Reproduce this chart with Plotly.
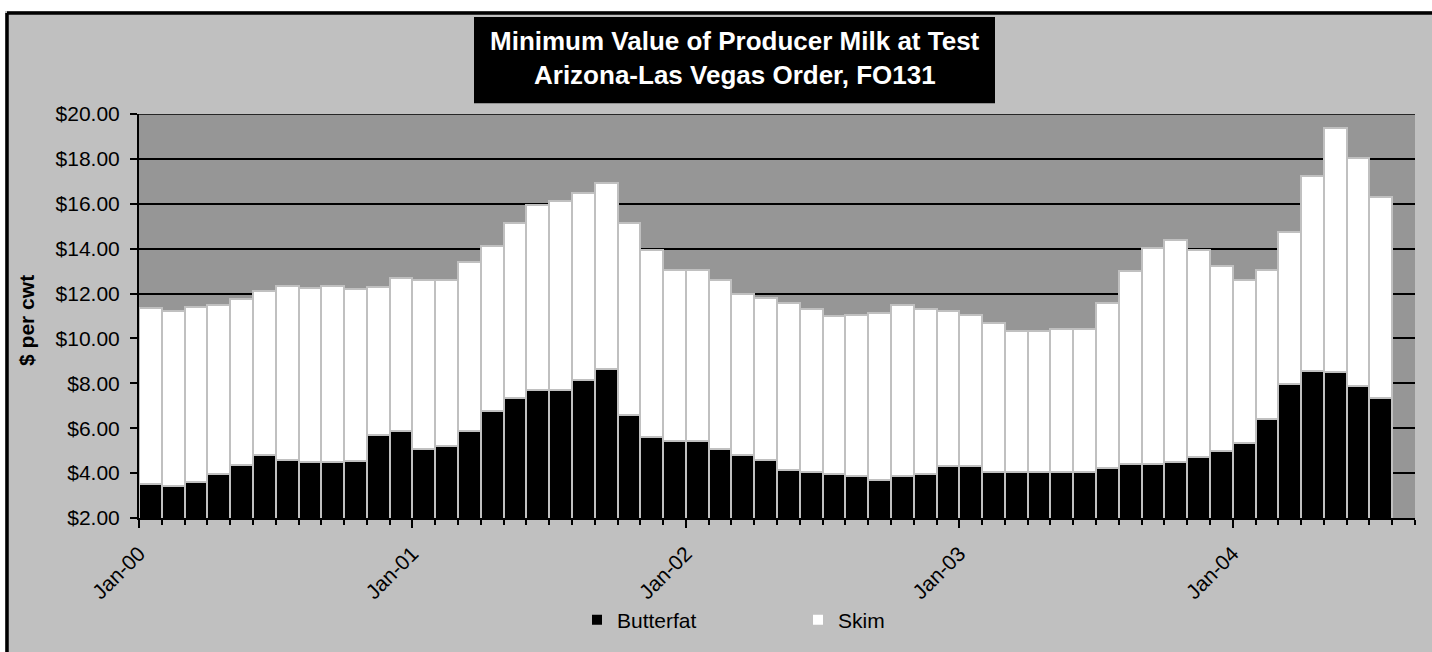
import plotly.graph_objects as go

# ---------------- data ----------------
months = [
    "Jan-00", "Feb-00", "Mar-00", "Apr-00", "May-00", "Jun-00", "Jul-00", "Aug-00", "Sep-00", "Oct-00", "Nov-00", "Dec-00",
    "Jan-01", "Feb-01", "Mar-01", "Apr-01", "May-01", "Jun-01", "Jul-01", "Aug-01", "Sep-01", "Oct-01", "Nov-01", "Dec-01",
    "Jan-02", "Feb-02", "Mar-02", "Apr-02", "May-02", "Jun-02", "Jul-02", "Aug-02", "Sep-02", "Oct-02", "Nov-02", "Dec-02",
    "Jan-03", "Feb-03", "Mar-03", "Apr-03", "May-03", "Jun-03", "Jul-03", "Aug-03", "Sep-03", "Oct-03", "Nov-03", "Dec-03",
    "Jan-04", "Feb-04", "Mar-04", "Apr-04", "May-04", "Jun-04", "Jul-04", "Aug-04",
]

butterfat = [
    3.53, 3.41, 3.60, 3.97, 4.37, 4.81, 4.58, 4.48, 4.48, 4.55, 5.70, 5.88,
    5.09, 5.19, 5.88, 6.75, 7.36, 7.71, 7.71, 8.15, 8.64, 6.58, 5.62, 5.42,
    5.42, 5.09, 4.81, 4.57, 4.13, 4.03, 3.94, 3.87, 3.69, 3.88, 3.95, 4.30,
    4.30, 4.03, 4.03, 4.03, 4.03, 4.03, 4.21, 4.39, 4.39, 4.49, 4.74, 5.00,
    5.35, 6.42, 7.99, 8.57, 8.51, 7.87, 7.36, None,
]

skim = [
    7.84, 7.81, 7.78, 7.50, 7.39, 7.29, 7.77, 7.78, 7.85, 7.65, 6.58, 6.83,
    7.53, 7.43, 7.53, 7.37, 7.80, 8.24, 8.42, 8.32, 8.27, 8.58, 8.30, 7.64,
    7.64, 7.53, 7.19, 7.25, 7.44, 7.30, 7.04, 7.18, 7.45, 7.61, 7.38, 6.94,
    6.75, 6.67, 6.32, 6.32, 6.39, 6.39, 7.36, 8.61, 9.63, 9.88, 9.19, 8.23,
    7.27, 6.63, 6.75, 8.69, 10.85, 10.16, 8.94, None,
]

tick_labels = ["Jan-00", "Jan-01", "Jan-02", "Jan-03", "Jan-04"]

y_range = [2, 20]

title_lines = ["Minimum Value of Producer Milk at Test", "Arizona-Las Vegas Order, FO131"]
y_title = "$ per cwt"

# ---------------- layout helpers ----------------
W, H = 1432, 652
L, R, T, B = 139, 17, 114, 126
PW, PH = W - L - R, H - T - B


def xp(px):
    return (px - L) / PW


def yp(py):
    return (H - B - py) / PH


FONT = "Arial, Liberation Sans, sans-serif"

# category positions: each month occupies one unit, bars centred in it
xpos = [i + 0.5 for i in range(len(months))]
tickvals = [months.index(t) for t in tick_labels]

fig = go.Figure()
fig.add_trace(go.Bar(
    x=xpos, y=butterfat, name="Butterfat",
    marker=dict(color="#000000", line=dict(color="#C0C0C0", width=2)),
))
fig.add_trace(go.Bar(
    x=xpos, y=skim, name="Skim",
    marker=dict(color="#FFFFFF", line=dict(color="#C0C0C0", width=2)),
))

shapes = [
    # top gridline / plot-area top edge
    dict(type="line", xref="paper", yref="y", x0=0, x1=1, y0=y_range[1], y1=y_range[1],
         line=dict(color="#000000", width=1.5), layer="below"),
    # white strip outside the chart frame (top and left)
    dict(type="rect", xref="paper", yref="paper", x0=xp(-20), x1=xp(W + 20), y0=yp(9), y1=yp(-20),
         fillcolor="#FFFFFF", line=dict(width=0), layer="above"),
    dict(type="rect", xref="paper", yref="paper", x0=xp(-20), x1=xp(5), y0=yp(H + 20), y1=yp(-20),
         fillcolor="#FFFFFF", line=dict(width=0), layer="above"),
    # black chart frame
    dict(type="line", xref="paper", yref="paper", x0=xp(7), x1=xp(W + 20), y0=yp(11), y1=yp(11),
         line=dict(color="#000000", width=3.5), layer="above"),
    dict(type="line", xref="paper", yref="paper", x0=xp(7), x1=xp(7), y0=yp(11), y1=yp(H + 20),
         line=dict(color="#000000", width=3.5), layer="above"),
    # title box
    dict(type="rect", xref="paper", yref="paper", x0=xp(474), x1=xp(995), y0=yp(103), y1=yp(15),
         fillcolor="#000000", line=dict(color="#000000", width=0), layer="above"),
]

annotations = [
    dict(text="<b>%s</b>" % title_lines[0], xref="paper", yref="paper", x=xp(735), y=yp(40),
         xanchor="center", yanchor="middle", showarrow=False,
         font=dict(family=FONT, size=26, color="#FFFFFF")),
    dict(text="<b>%s</b>" % title_lines[1], xref="paper", yref="paper", x=xp(735), y=yp(74),
         xanchor="center", yanchor="middle", showarrow=False,
         font=dict(family=FONT, size=26, color="#FFFFFF")),
    dict(text="<b>%s</b>" % y_title, xref="paper", yref="paper", x=xp(27), y=yp(325),
         xanchor="center", yanchor="middle", showarrow=False, textangle=-90,
         font=dict(family=FONT, size=21, color="#000000")),
]

fig.update_layout(
    width=W, height=H,
    margin=dict(l=L, r=R, t=T, b=B, pad=0),
    paper_bgcolor="#C0C0C0",
    plot_bgcolor="#969696",
    barmode="stack",
    bargap=0,
    font=dict(family=FONT, size=21, color="#000000"),
    showlegend=True,
    legend=dict(
        orientation="h", x=xp(577), y=yp(630), xanchor="left", yanchor="middle",
        bgcolor="rgba(0,0,0,0)", font=dict(family=FONT, size=21, color="#000000"),
        entrywidth=176, entrywidthmode="pixels", traceorder="normal",
    ),
    shapes=shapes,
    annotations=annotations,
    xaxis=dict(
        range=[0, len(months)],
        tickmode="array", tickvals=tickvals, ticktext=tick_labels,
        tickangle=-45, ticks="outside", ticklen=8, tickwidth=1.5, tickcolor="#000000",
        minor=dict(dtick=1, tick0=0, ticks="outside", ticklen=5, tickwidth=1.5, tickcolor="#000000", showgrid=False),
        showgrid=False, zeroline=False,
        showline=True, linecolor="#000000", linewidth=2,
        tickfont=dict(family=FONT, size=21, color="#000000"),
        ticklabelstandoff=5,
        fixedrange=True,
    ),
    yaxis=dict(
        range=y_range, dtick=2, tick0=0,
        tickprefix="$", tickformat=".2f",
        ticks="outside", ticklen=7, tickwidth=1.5, tickcolor="#000000",
        showgrid=True, gridcolor="#000000", gridwidth=1.5,
        zeroline=False, showline=True, linecolor="#000000", linewidth=2,
        tickfont=dict(family=FONT, size=21, color="#000000"),
        ticklabelstandoff=6,
        fixedrange=True,
    ),
)

fig.write_html(
    "out.html",
    config={"displayModeBar": False},
    post_script="document.body.style.margin='0';",
)
